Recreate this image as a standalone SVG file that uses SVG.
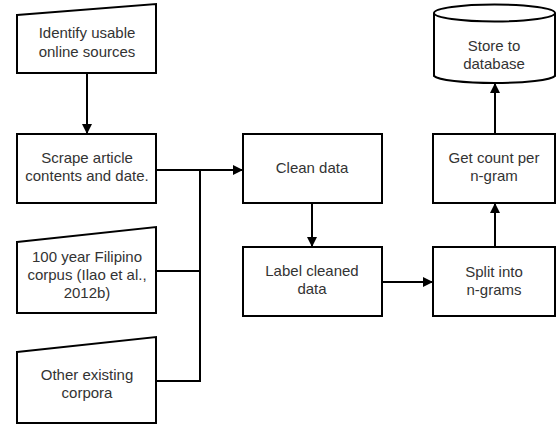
<svg xmlns="http://www.w3.org/2000/svg" width="556" height="425" viewBox="0 0 556 425">
<style>
.s{fill:#fff;stroke:#000;stroke-width:2}
.t{font-family:"Liberation Sans",Arial,sans-serif;font-size:15px;fill:#333;text-anchor:middle}
.c{fill:none;stroke:#000;stroke-width:2}
</style>
<defs>
<marker id="a" markerWidth="10" markerHeight="10" refX="9" refY="5" orient="auto" markerUnits="userSpaceOnUse"><path d="M0,0 L10,5 L0,10 Z" fill="#000"/></marker>
</defs>
<rect width="556" height="425" fill="#fff"/>
<g id="connectors">
<path class="c" d="M87,73 V133" marker-end="url(#a)"/>
<path class="c" d="M156,170 H242" marker-end="url(#a)"/>
<path class="c" d="M156,271 H200 V170"/>
<path class="c" d="M156,381 H200 V270"/>
<path class="c" d="M312,203 V246" marker-end="url(#a)"/>
<path class="c" d="M382,282 H432" marker-end="url(#a)"/>
<path class="c" d="M495,246 V204" marker-end="url(#a)"/>
<path class="c" d="M495,134 V84" marker-end="url(#a)"/>
</g>
<g id="identify">
<path class="s" d="M17,15 L156,4 V73 H17 Z"/>
<text class="t" x="87" y="38">Identify usable</text>
<text class="t" x="87" y="57">online sources</text>
</g>
<g id="scrape">
<rect class="s" x="17" y="134" width="139" height="69"/>
<text class="t" x="87" y="163">Scrape article</text>
<text class="t" x="87" y="181">contents and date.</text>
</g>
<g id="filipino">
<path class="s" d="M17,242 L156,227 V313 H17 Z"/>
<text class="t" x="87" y="262">100 year Filipino</text>
<text class="t" x="87" y="280">corpus (Ilao et al.,</text>
<text class="t" x="87" y="298">2012b)</text>
</g>
<g id="other">
<path class="s" d="M17,352 L156,337 V423 H17 Z"/>
<text class="t" x="87" y="380">Other existing</text>
<text class="t" x="87" y="398">corpora</text>
</g>
<g id="clean">
<rect class="s" x="243" y="134" width="139" height="69"/>
<text class="t" x="312" y="173">Clean data</text>
</g>
<g id="label">
<rect class="s" x="243" y="247" width="139" height="69"/>
<text class="t" x="312" y="276">Label cleaned</text>
<text class="t" x="312" y="294">data</text>
</g>
<g id="split">
<rect class="s" x="433" y="247" width="122" height="69"/>
<text class="t" x="494" y="277">Split into</text>
<text class="t" x="494" y="295">n-grams</text>
</g>
<g id="count">
<rect class="s" x="433" y="134" width="122" height="69"/>
<text class="t" x="494" y="163">Get count per</text>
<text class="t" x="494" y="181">n-gram</text>
</g>
<g id="store">
<path class="s" d="M434,13 V76 A61,8 0 0 0 555,76 V13"/>
<ellipse class="s" cx="494.5" cy="13" rx="60.5" ry="8.5"/>
<text class="t" x="494" y="51">Store to</text>
<text class="t" x="494" y="69">database</text>
</g>
</svg>
